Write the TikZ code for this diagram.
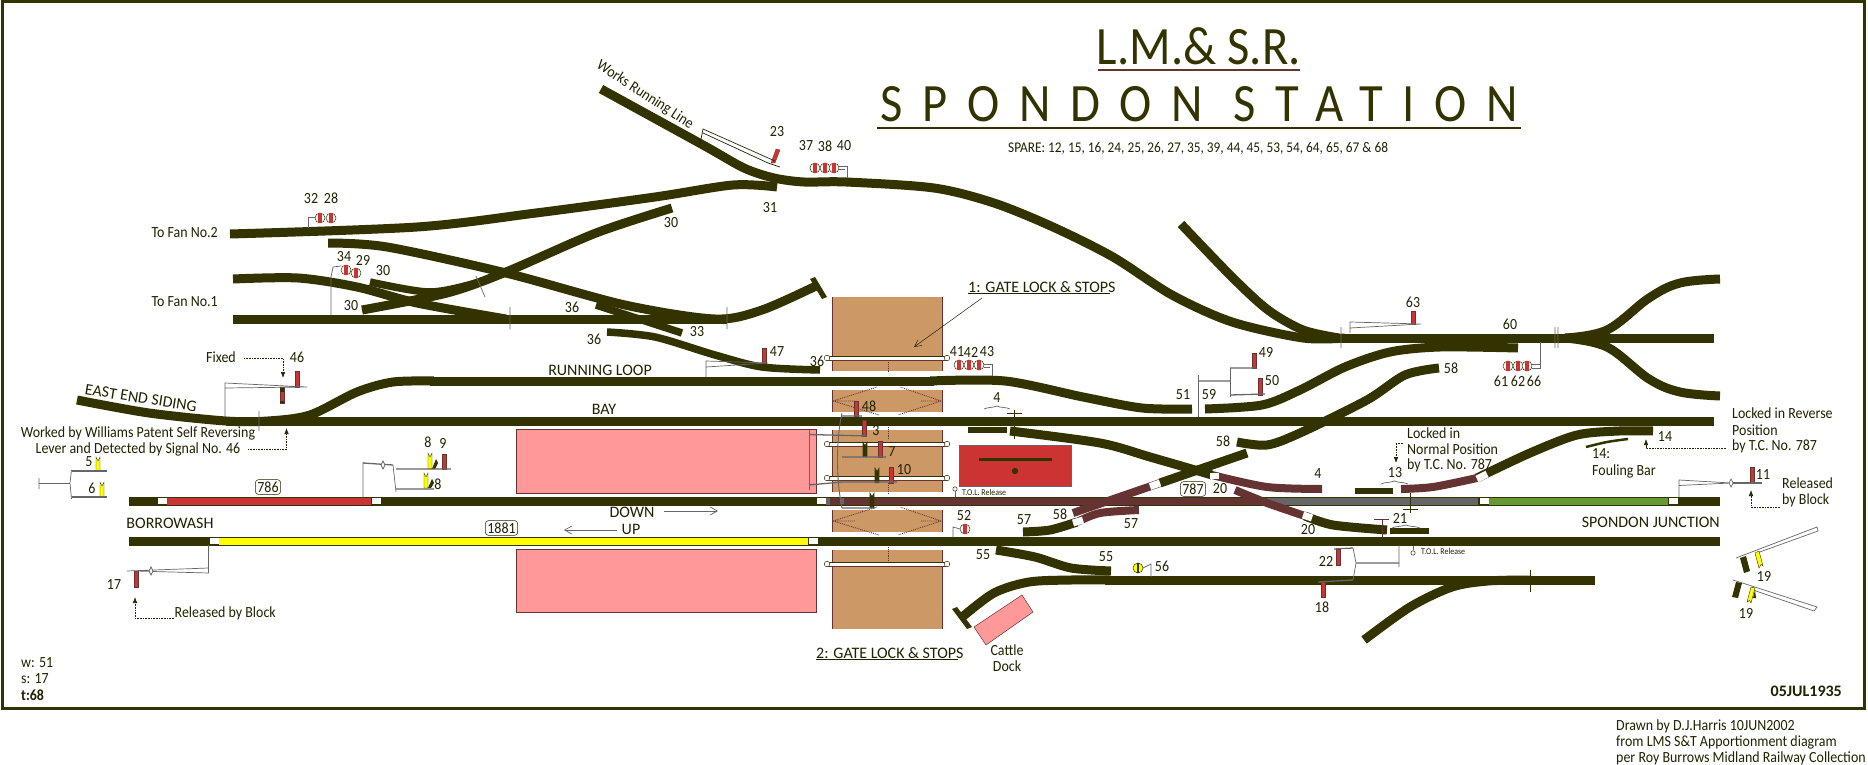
\documentclass[tikz,border=0pt]{standalone}
\usepackage{fontspec}
\setmainfont[FakeStretch=0.9]{Carlito}
\newfontfamily\capf{Carlito}
\usetikzlibrary{arrows.meta}
\definecolor{trackc}{HTML}{333300}
\definecolor{maroonc}{HTML}{663333}
\definecolor{redc}{HTML}{CC3333}
\definecolor{greenc}{HTML}{669933}
\definecolor{greyc}{HTML}{666666}
\definecolor{tanc}{HTML}{CC9966}
\definecolor{pinkc}{HTML}{FF9999}
\definecolor{yelc}{HTML}{FFFF00}
\definecolor{inkc}{HTML}{222200}
\newcommand\post[5][4.4]{\fill[#5,draw=maroonc,line width=.4pt] (#2-#1/2,#3) rectangle (#2+#1/2,#4);}
\newcommand\dpost[3]{\fill[trackc] (#1-2.4,#2) -- (#1,#2+4) -- (#1+2.4,#2) -- (#1+2.4,#3) -- (#1-2.4,#3) -- cycle;}
\newcommand\ypost[3]{\fill[yelc,draw=trackc,line width=.4pt] (#1-2,#2) -- (#1,#2+4) -- (#1+2,#2) -- (#1+2,#3) -- (#1-2,#3) -- cycle;}
\newcommand\disc[3]{\filldraw[fill=white,draw=trackc,line width=.5pt] (#1,#2) circle (5); \fill[#3] (#1-2,#2-4.8) rectangle (#1+2,#2+4.8);}
\newcommand\brc[3]{\draw[rod] (#1,#3+1) .. controls (#1+4,#3-1) and (#1+8,#3) .. ({(#1+#2)/2},#3-2) .. controls ({(#2+#1)/2+4},#3) and (#2-4,#3-1) .. (#2,#3+1);}
\newcommand\wsq[2]{\fill[white] (#1-4.5,#2-3.4) rectangle (#1+4.5,#2+3.4);}
\tikzset{
 track/.style={line width=9pt,draw=trackc},
 mtrack/.style={line width=8pt,draw=maroonc},
 rod/.style={draw=greyc,line width=.7pt},
 rodb/.style={draw=greyc,line width=1.3pt},
 thinl/.style={draw=inkc,line width=.5pt},
 lab/.style={text=inkc,font=\fontsize{15.5}{18}\selectfont,inner sep=0pt},
 caplab/.style={text=inkc,font=\capf\fontsize{16}{18}\selectfont,inner sep=0pt},
 smalllab/.style={text=inkc,font=\fontsize{8.8}{11}\selectfont,inner sep=0pt,anchor=west},
 llab/.style={lab,anchor=west},
 dotarr/.style={draw=inkc,densely dotted,line width=.6pt,-{Latex[length=6pt,width=4.5pt]}},
 arr/.style={draw=greyc,line width=.7pt,-{Straight Barb[length=7pt,width=8pt]}},
 pill/.style={lab,draw=inkc,line width=.5pt,rounded corners=3pt,minimum height=12pt,inner sep=2pt},
 gatedot/.style={draw=maroonc,densely dotted,line width=.9pt},
}
\begin{document}
\begin{tikzpicture}[x=1pt,y=-1pt]
\useasboundingbox (0,0) rectangle (1868,765);
\fill[white] (0,0) rectangle (1868,765);
\draw[trackc,line width=3pt] (2,2) rectangle (1864,708);
% platforms
\foreach \yo/\yu in {429/493,549/612}{\filldraw[fill=pinkc,draw=maroonc,line width=.8pt] (516,\yo) rectangle (816,\yu);}
\filldraw[fill=pinkc,draw=maroonc,line width=.5pt] (1022,595) -- (1033,612) -- (986,645) -- (974,627) -- cycle;
% gates
\foreach \yo/\yu in {297/371,390/412,430/492,510/532,550/629}{\fill[tanc] (832,\yo) rectangle (942,\yu);
 \draw[maroonc,line width=.6pt] (832,\yo) -- (832,\yu) (942,\yo) -- (942,\yu);}
\foreach \ym in {401,521}{
 \draw[gatedot] (833,\ym) -- (877,\ym-14) (833,\ym) -- (879,\ym+14) (941,\ym) -- (900,\ym-14) (941,\ym) -- (898,\ym+14)
  (833,\ym) -- (855,\ym) (941,\ym) -- (920,\ym);}
\foreach \ya/\yb in {360/373,425/440,483/493,545/562}{\draw[gatedot] (888,\ya) -- (888,\yb);}
% gate rods
\foreach \y/\xe in {358/947,444/947,478/947,564/947}{
 \fill[white] (827,\y-1.8) rectangle (\xe,\y+1.8);
 \draw[trackc,line width=.4pt] (827,\y-2) -- (\xe,\y-2);
 \draw[maroonc,line width=.7pt] (827,\y+2) -- (\xe,\y+2);
 \filldraw[fill=white,draw=trackc,line width=.5pt] (827,\y) circle (2.8) (\xe,\y) circle (2.8);}
% red box
\filldraw[fill=redc,draw=greyc,line width=.8pt] (959,445) rectangle (1071,486);
\fill[trackc] (979,458) rectangle (1052,461);
\fill[trackc] (1015,471) circle (3.2);
% main lines
\draw[track] (129,501) -- (1720,501);
\draw[redc,line width=7pt] (167,501) -- (371,501);
\wsq{162}{501}\wsq{376}{501}
\wsq{821}{501}
\draw[maroonc,line width=7pt] (830,501) -- (1267,501);
\fill[greyc] (825.5,497.5) rectangle (830,504.5);
\draw[greyc,line width=7pt] (1267,501) -- (1478,501);
\wsq{1484}{501}
\draw[greenc,line width=7pt] (1489,501) -- (1668,501);
\wsq{1673}{501}
\draw[track] (129,541) -- (1720,541);
\draw[yelc,line width=7pt] (219,541) -- (808,541);
\wsq{214}{541}\wsq{813}{541}
% top tracks
\draw[track] plot[smooth,tension=.5] coordinates {(601,89) (703,145) (744,168) (774,178) (804,182) (846,182) (934,188) (994,203) (1053,227) (1113,257) (1172,295) (1232,322) (1303,338) (1345,338)};
\draw[track] (1340,338) -- (1714,338);
\draw[track] plot[smooth,tension=.5] coordinates {(1181,224) (1232,277) (1268,310) (1303,330) (1339,338)};
\draw[track] plot[smooth,tension=.6] coordinates {(1565,338) (1607,330) (1649,298) (1680,283) (1720,279)};
\draw[track] plot[smooth,tension=.6] coordinates {(1565,338) (1607,347) (1649,379) (1680,392) (1720,396)};
\draw[track] plot[smooth,tension=.5] coordinates {(230,234) (417,227) (536,213) (655,197) (733,185) (777,187)};
\draw[track] plot[smooth,tension=.5] coordinates {(672,208) (596,233) (506,272) (447,293) (362,310)};
\draw[track,line width=7.5pt] plot[smooth,tension=.5] coordinates {(370,282) (429,292) (476,283) (506,272)};
\draw[track] plot[smooth,tension=.5] coordinates {(328,243) (387,247) (506,273) (625,305) (715,319) (762,310) (818,285)};
\fill[trackc] (810,279) -- (815,277) -- (827,297) -- (822,299) -- cycle;
\draw[track] (233,319) -- (727,319);
\draw[track] plot[smooth,tension=.5] coordinates {(233,279) (298,278) (357,287) (417,303) (506,319)};
\draw[track,line width=7.5pt] (596,305) -- (682,333);
\draw[track,line width=7.5pt] plot[smooth,tension=.5] coordinates {(607,332) (655,337) (715,355) (762,367) (820,370)};
% running loop and bay
\draw[track] plot[smooth,tension=.5] coordinates {(77,400) (149,413) (226,421) (268,421) (310,415) (357,392) (393,382) (434,381)};
\draw[track] (430,381) -- (934,381);
\draw[track] plot[smooth,tension=.5] coordinates {(930,381) (1005,381) (1083,397) (1142,408) (1192,409)};
\draw[track] (226,421) -- (1714,421);
\draw[track] plot[smooth,tension=.5] coordinates {(1205,409) (1262,405) (1300,390) (1345,367) (1390,352) (1440,347) (1518,348)};
\draw[track] plot[smooth,tension=.5] coordinates {(1237,442) (1267,445) (1300,433) (1367,400) (1405,375) (1439,368)};
% track 4
\draw[mtrack] plot[smooth,tension=.5] coordinates {(1212,475) (1267,487) (1322,489)};
\draw[track] plot[smooth,tension=.5] coordinates {(1010,431) (1100,443) (1150,457) (1195,470) (1212,475)};
\wsq{1214}{476}
% track 58 lower
\draw[track] (1247,453) -- (1160,483);
\draw[mtrack] (1160,483) -- (1073,513);
\draw[white,line width=7pt] (1150,486.5) -- (1160,483);
% track 20
\draw[mtrack] plot[smooth,tension=.4] coordinates {(1235,490) (1267,503) (1305,516)};
\draw[track] plot[smooth,tension=.5] coordinates {(1305,516) (1333,525) (1387,530)};
\draw[white,line width=7pt] (1303,515) -- (1312,518);
% track 57
\draw[track] plot[smooth,tension=.5] coordinates {(1023,532) (1050,530) (1077,522)};
\draw[mtrack] plot[smooth,tension=.5] coordinates {(1077,522) (1100,513) (1139,510)};
\draw[white,line width=7pt] (1073,523) -- (1083,520);
% track 14
\draw[mtrack] plot[smooth,tension=.5] coordinates {(1401,489) (1433,487) (1477,478)};
\draw[track] plot[smooth,tension=.5] coordinates {(1477,478) (1530,453) (1577,435) (1619,431) (1653,431)};
\draw[white,line width=7pt] (1477,479) -- (1487,474);
\draw[track,line width=2.5pt] plot[smooth] coordinates {(1586,447) (1607,442) (1628,439)};
% short pieces
\fill[trackc] (968,427) rectangle (1007,433);
\fill[trackc] (1355,488) rectangle (1393,494);
\fill[trackc] (1390,528) rectangle (1429,534);
% 55 and bottom
\draw[track] plot[smooth,tension=.5] coordinates {(996,550) (1035,557) (1071,568) (1111,571)};
\draw[track] plot[smooth,tension=.5] coordinates {(961,618) (994,593) (1029,582) (1071,580) (1110,580)};
\draw[track] (1105,580) -- (1595,580);
\draw[track] plot[smooth,tension=.5] coordinates {(1364,640) (1410,607) (1452,587) (1488,581) (1530,580)};
\fill[trackc] (952,609) -- (957,607) -- (972,627) -- (967,629) -- cycle;
% ticks
\draw[rod] (476,276) -- (485,297) (510,307) -- (510,329) (727,307) -- (727,329) (259,411) -- (259,431)
 (1341,327) -- (1341,348) (1555,327) -- (1555,348) (1558,327) -- (1558,348);
\draw[rod,draw=trackc] (1014,410) -- (1014,439) (1007,413) -- (1022,413) (1410,493) -- (1410,513) (1403,509) -- (1418,509) (1530,570) -- (1530,592);
\draw[rod,draw=maroonc] (1382,519) -- (1382,537) (1374,519) -- (1389,519);
% signal 23
\fill[redc,draw=maroonc,line width=.3pt] (771,163) -- (775,163) -- (780,150) -- (776,149) -- cycle;
\draw[rod,draw=inkc] (700,144) -- (703,129) -- (775,161) (703,133) -- (768,163) (768,163) -- (780,167);
% disc signals
\disc{815}{168}{redc}\disc{825}{168}{redc}\disc{834}{168}{redc}
\draw[rod] (839,166) -- (847,166) -- (847,178) (839,169) -- (845,169);
\disc{320}{218}{redc}\disc{331}{218}{redc}
\draw[rod] (315,217) -- (308,217) -- (308,228);
\disc{346}{270}{redc}\disc{356}{273}{redc}
\draw[rod] (341,266) -- (333,267) -- (331,277) (331,277) -- (331,315);
\disc{959}{365}{redc}\disc{969}{365}{redc}\disc{979}{365}{redc}
\draw[rod] (984,364) -- (992,364) -- (992,376) (984,367) -- (990,367);
\disc{1508}{366}{redc}\disc{1518}{366}{redc}\disc{1527}{366}{redc}
\draw[rod] (1532,364) -- (1540,364) (1532,368) -- (1540,368) -- (1540,342);
\disc{965}{529}{redc}
\draw[rod] (960,529) -- (953,527) -- (953,537);
\filldraw[fill=yelc,draw=trackc,line width=.5pt] (1138,568) circle (5);
\fill[trackc] (1136.8,563) rectangle (1139.2,573);
\draw[rod] (1143,568) -- (1151,564) -- (1151,577);
% signal 47
\post[4]{764}{348}{363}{redc}
\draw[rod] (706,377) -- (706,361) -- (768,363) -- (706,367);
% signal 46
\post{297}{371}{387}{redc}
\post{282}{387}{403}{redc}
\fill[trackc] (280,387) rectangle (284,392);\fill[trackc] (280,401) rectangle (284,403);
\draw[rod] (225,416) -- (225,383) -- (307,387) -- (225,388);
\draw[dotarr] (244,358) -- (283,358) -- (283,378);
\draw[dotarr] (248,449) -- (286.5,449) -- (286.5,428);
% signal 5/6
\ypost{98}{457}{471}\ypost{102}{482}{497}
\draw[rod] (39,478) -- (39,489) (71.5,470) -- (70,483) -- (71.5,499);
\draw[rodb] (39,483.5) -- (70,483.5) (71.5,471) -- (107,471) (71.5,497) -- (107,497);
% signals 8 9
\ypost{430}{453}{469}\post{444}{454}{469}{redc}\ypost{426}{473}{488}
\fill[trackc] (432,469) -- (436,459) -- (438,463) -- (435,469) -- cycle;
\fill[trackc] (428,488) -- (432,479) -- (434,483) -- (431,488) -- cycle;
\draw[rodb] (396,469) -- (451,469) (396,489) -- (434,489) (363,463) -- (393,465);
\draw[rod] (393,465) -- (396,492) (363,497) -- (363,462);
\draw[rod,fill=white] (383,461) -- (385,465) -- (383,469) -- (381,465) -- cycle;
% signal 17
\post{136}{571}{587}{redc}
\draw[rod] (127,571) -- (208.5,568) -- (208.5,545) (208.5,568) -- (208.5,573) -- (135,571);
\draw[rod,fill=white] (151,567) -- (153,571) -- (151,575) -- (149,571) -- cycle;
\draw[dotarr] (174,618) -- (135,618) -- (135,597);
% signal 63
\post{1413}{311}{324}{redc}
\draw[rod] (1350,333) -- (1350,322) -- (1421,324) -- (1350,328);
% signals 49 50
\post[4]{1254}{353}{368}{redc}\post[4]{1260}{378}{395}{redc}
\draw[rod] (1198,375) -- (1198,417) (1230,368) -- (1230,397);
\draw[rodb] (1198,381) -- (1230,381) (1230,368) -- (1257,368) (1230,395) -- (1265,394);
% gate signals
\post[4]{856}{401}{416}{redc}\post[4]{864}{420}{436}{redc}
\dpost{865}{441}{457}\post[4]{880}{441}{457}{redc}
\dpost{877}{467}{483}\post[4]{891}{467}{483}{redc}
\dpost{872}{492}{508}
\draw[rodb] (842,416) -- (862,416) (809,434.5) -- (867,436) (842,457) -- (886,457) (842,482) -- (897,482) (842,508) -- (875,508) (809,485) -- (842,482);
\draw[rod] (809,430) -- (809,490);
\draw[rod,line width=.9pt] (842,413) .. controls (836,440) and (836,480) .. (842,508);
\fill[greyc] (840,498) rectangle (844,504);
% signals 22 18
\post[4]{1338}{549}{565}{redc}\post[4]{1323}{582}{597}{redc}
\draw[rodb] (1334,549) -- (1353,548) (1356,563) -- (1399,563) (1318,582) -- (1353,580);
\draw[rod] (1353,548) -- (1356,563) -- (1353,580) (1399,545) -- (1399,567);
% signal 11
\post{1752}{467}{483}{redc}
\draw[rod] (1679,497) -- (1679,480) -- (1731,483) (1731,483) -- (1679,485.5);
\draw[rodb] (1731,483) -- (1762,483);
\draw[rod,fill=white] (1731,479) -- (1733,483) -- (1731,487) -- (1729,483) -- cycle;
\draw[dotarr] (1780,507) -- (1751,507) -- (1751,490);
% signals 19
\draw[rod] (1736,558) -- (1817,527) -- (1818,531) -- (1757,553) (1733,580) -- (1817,607) -- (1814,611) -- (1753,590);
\fill[trackc] (1740,558) -- (1746,556) -- (1750,571) -- (1744,573) -- cycle;
\filldraw[fill=yelc,draw=trackc,line width=.4pt] (1755,553) -- (1759,551) -- (1763,566) -- (1761,564.5) -- (1759,568) -- cycle;
\fill[trackc] (1736,582) -- (1742,583) -- (1738,598) -- (1732,597) -- cycle;
\filldraw[fill=yelc,draw=trackc,line width=.4pt] (1751,587) -- (1755,588) -- (1751,603) -- (1749.5,600.5) -- (1747,602) -- cycle;
\fill[trackc] (1756,598) -- (1755,590) -- (1753,598) -- cycle;
% other arrows
\draw[dotarr] (1403,443) -- (1396,443) -- (1396,463);
\draw[dotarr] (1726,448) -- (1646,448) -- (1646,439);
\draw[arr] (664,511) -- (718,511);
\draw[arr] (617,530) -- (564,530);
\draw[thinl,-{Straight Barb[length=7pt,width=7pt]}] (982,298) -- (914,347);
% T.O.L.
\draw[rod] (955,491) -- (955,497) (1413,550) -- (1413,546);
\filldraw[fill=white,draw=trackc,line width=.5pt] (955,489) circle (2.2) (1413,553) circle (2.2);
\node[smalllab] at (962,492) {T.O.L. Release};
\node[smalllab] at (1421,551) {T.O.L. Release};
% braces
\brc{984}{1010}{408}\brc{1381}{1408}{483}\brc{1392}{1420}{527}
% title
\node[text=trackc,font=\fontsize{54}{56}\selectfont,inner sep=0pt] (ttl) at (1199,46) {L.M.\&\ S.R.};
\fill[maroonc] (1098,69) rectangle (1300,71.5);
\node[text=trackc,font=\fontsize{54}{56}\selectfont\addfontfeature{LetterSpace=36.5},inner sep=0pt] (stn) at (1199,104) {SPONDON STATION};
\fill[trackc] (877,127) rectangle (1521,129.5);
\node[lab,font=\fontsize{14.8}{18}\selectfont] (spare) at (1198,148) {SPARE: 12, 15, 16, 24, 25, 26, 27, 35, 39, 44, 45, 53, 54, 64, 65, 67 \& 68};
% number labels
\foreach \x/\y/\t in {777/132/23,806/146/37,825/146/38,844/146/40,311/199/32,331/198/28,344/257/34,363/260/29,
 671/223/30,383/271/30,351/306/30,770/208/31,572/307/36,697/332/33,594/339/36,777/352/47,817/361/36,297/357/46,
 1413/302/63,1510/324/60,1501/381/61,1518/381/62,1534/381/66,1266/352/49,1272/381/50,1183/395/51,1209/395/59,
 1451/368/58,997/398/4,957/352/41,971/352/42,987/352/43,869/406/48,876/431/3,892/452/7,904/470/10,
 89/462/5,92/488/6,428/442/8,443/443/9,438/484/8,114/585/17,964/516/52,1162/566/56,1024/520/57,1060/514/58,1131/524/57,
 983/555/55,1106/557/55,1223/441/58,1318/474/4,1220/489/20,1308/530/20,1395/473/13,1400/518/21,1326/561/22,1322/607/18,
 1665/437/14,1763/475/11,1764/576/19,1746/613/19}{\node[lab] at (\x,\y) {\t};}
% pills
\node[pill] at (268,487) {786};
\node[pill] at (501.5,528) {1881};
\node[pill] at (1193,489) {787};
% text labels
\node[lab,anchor=east] at (218,233) {To Fan No.2};
\node[lab,anchor=east] at (218,302) {To Fan No.1};
\node[lab] at (221,357) {Fixed};
\node[lab,rotate=-33] at (645,95) {Works Running Line};
\node[caplab] at (600,370) {RUNNING LOOP};
\node[caplab] at (604,409) {BAY};
\node[caplab,rotate=-9] at (141,398) {EAST END SIDING};
\node[lab] at (138,433) {Worked by Williams Patent Self Reversing};
\node[lab] at (138,449) {Lever and Detected by Signal No. 46};
\node[caplab] at (632,512) {DOWN};
\node[caplab] at (631,529) {UP};
\node[caplab] at (170,523) {BORROWASH};
\node[llab] at (174.5,613) {Released by Block};
\node[llab] at (21,663) {w: 51};
\node[llab] at (21,679) {s: 17};
\node[llab,font=\fontsize{15.5}{18}\selectfont\bfseries] at (21,695) {t:68};
\node[caplab,font=\capf\fontsize{16}{18}\selectfont\bfseries,anchor=east] at (1842,691) {05JUL1935};
\node[caplab,anchor=west] (gl1) at (968,287) {1: GATE LOCK \& STOPS};
\draw[thinl] (968,293.5) -- (1110,293.5);
\node[caplab,anchor=west] (gl2) at (816,653) {2: GATE LOCK \& STOPS};
\draw[thinl] (816,659.5) -- (958,659.5);
\node[llab] at (1407,433) {Locked in};
\node[llab] at (1407,449) {Normal Position};
\node[llab] at (1407,465) {by T.C. No. 787};
\node[llab] at (1732,413) {Locked in Reverse};
\node[llab] at (1732,430) {Position};
\node[llab] at (1732,446) {by T.C. No. 787};
\node[llab] at (1592,454) {14:};
\node[llab] at (1592,471) {Fouling Bar};
\node[caplab,anchor=east] at (1720,522) {SPONDON JUNCTION};
\node[llab] at (1782,483) {Released};
\node[llab] at (1782,500) {by Block};
\node[lab] at (1007,650) {Cattle};
\node[lab] at (1007,666) {Dock};
\node[llab] at (1616,726) {Drawn by D.J.Harris 10JUN2002};
\node[llab] at (1616,742) {from LMS S\&T Apportionment diagram};
\node[llab] at (1616,758) {per Roy Burrows Midland Railway Collection};
\end{tikzpicture}
\end{document}
